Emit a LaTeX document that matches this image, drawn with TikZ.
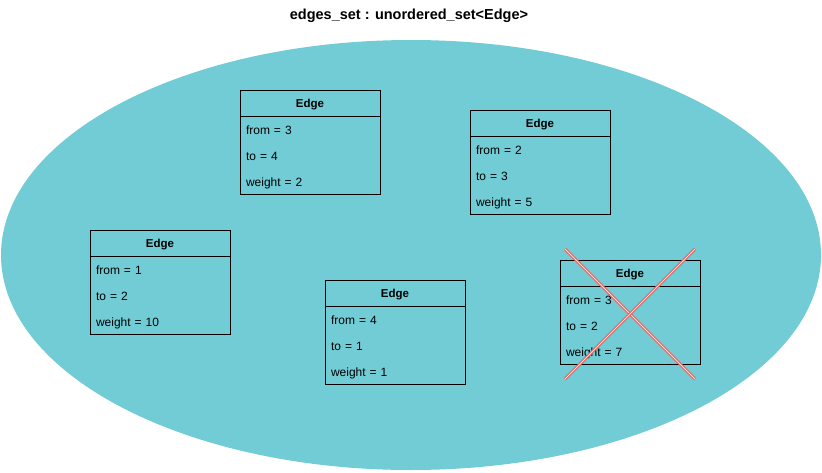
\documentclass[tikz,border=0pt]{standalone}
\usepackage{fontspec}
\setmainfont{Liberation Sans}
\usetikzlibrary{positioning,shapes.geometric}
\definecolor{setcolor}{HTML}{71CCD5}
\definecolor{crossred}{HTML}{E8605B}
\definecolor{crossin}{HTML}{F9D7D5}

\begin{document}
\begin{tikzpicture}[x=1pt,y=-1pt]
\tikzset{setshape/.style={ellipse, fill=setcolor, inner sep=0, minimum width=820pt, minimum height=430pt},
  head/.style={draw, line width=1pt, outer sep=0, minimum width=140pt, minimum height=26pt, inner sep=0, text height=8.5pt, text depth=0pt, font=\fontsize{11.5}{13}\selectfont\bfseries},
  row/.style={outer sep=0, minimum height=26pt, text width=128pt, inner xsep=6pt, inner ysep=0, text height=10pt, text depth=0pt, align=left, font=\fontsize{12}{14}\selectfont},
  cross/.style={draw=crossred, double=crossin, line width=1pt, double distance=1pt}}
\useasboundingbox (0,0) rectangle (822,472);
\node[setshape] (set) at (411,255) {};
\node[font=\fontsize{14.5}{17}\selectfont\bfseries] (title) at (409,16) {edges\_set : unordered\_set<Edge>};
% edge 1
\node[head, anchor=north west] (e1) at (240,90) {Edge};
\node[row, below=0pt of e1] (e1f) {from = 3};
\node[row, below=0pt of e1f] (e1t) {to = 4};
\node[row, below=0pt of e1t] (e1w) {weight = 2};
\draw[line width=1pt] (e1.north west) rectangle (e1w.south east);
% edge 2
\node[head, anchor=north west] (e2) at (470,110) {Edge};
\node[row, below=0pt of e2] (e2f) {from = 2};
\node[row, below=0pt of e2f] (e2t) {to = 3};
\node[row, below=0pt of e2t] (e2w) {weight = 5};
\draw[line width=1pt] (e2.north west) rectangle (e2w.south east);
% edge 3
\node[head, anchor=north west] (e3) at (90,230) {Edge};
\node[row, below=0pt of e3] (e3f) {from = 1};
\node[row, below=0pt of e3f] (e3t) {to = 2};
\node[row, below=0pt of e3t] (e3w) {weight = 10};
\draw[line width=1pt] (e3.north west) rectangle (e3w.south east);
% edge 4
\node[head, anchor=north west] (e4) at (325,280) {Edge};
\node[row, below=0pt of e4] (e4f) {from = 4};
\node[row, below=0pt of e4f] (e4t) {to = 1};
\node[row, below=0pt of e4t] (e4w) {weight = 1};
\draw[line width=1pt] (e4.north west) rectangle (e4w.south east);
% edge 5 (removed)
\node[head, anchor=north west] (e5) at (560,260) {Edge};
\node[row, below=0pt of e5] (e5f) {from = 3};
\node[row, below=0pt of e5f] (e5t) {to = 2};
\node[row, below=0pt of e5t] (e5w) {weight = 7};
\draw[line width=1pt] (e5.north west) rectangle (e5w.south east);
\coordinate (c1) at (565,249);
\coordinate (c2) at (695,379);
\coordinate (c3) at (695,249);
\coordinate (c4) at (565,379);
\draw[cross] (c1) -- (c2);
\draw[cross] (c3) -- (c4);
\end{tikzpicture}
\end{document}
